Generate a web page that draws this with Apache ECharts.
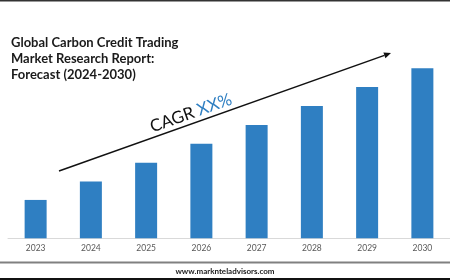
<!DOCTYPE html>
<html>
<head>
<meta charset="utf-8">
<script src="https://cdn.jsdelivr.net/npm/echarts@6/dist/echarts.min.js"></script>
<style>html,body{margin:0;padding:0;background:#fff;}#c{width:450px;height:280px;}</style>
</head>
<body>
<div id="c"></div>
<script>
var years = ['2023','2024','2025','2026','2027','2028','2029','2030'];
var marketSize = [2.03, 3.0, 4.0, 5.0, 6.0, 7.0, 8.0, 9.0];
var titleLines = ['Global Carbon Credit Trading', 'Market Research Report:', 'Forecast (2024-2030)'];
var footerText = 'www.marknteladvisors.com';

var chart = echarts.init(document.getElementById('c'), null, {renderer: 'canvas'});

// arrow geometry (decoration)
var x0 = 59, y0 = 171, x1 = 391, y1 = 53;
var dx = x1 - x0, dy = y1 - y0, L = Math.sqrt(dx*dx + dy*dy);
var ux = dx / L, uy = dy / L, px = -uy, py = ux;
var hl = 7, hw = 3;
var bx = x1 - ux*hl, by = y1 - uy*hl;
var ang = Math.atan2(-dy, dx);

chart.setOption({
  animation: false,
  title: {
    text: titleLines.join('\n'),
    left: 6, top: 30,
    textStyle: {fontFamily: 'Lato', fontWeight: 'bold', fontSize: 13, lineHeight: 16, color: '#1a1a1a'}
  },
  grid: {left: 8, width: 444.5, top: 49.3, bottom: 41.7, containLabel: false},
  xAxis: {
    type: 'category', data: years,
    axisLine: {lineStyle: {color: '#d9d9d9', width: 1}},
    axisTick: {show: false},
    axisLabel: {color: '#595959', fontSize: 8.5, fontFamily: 'Lato', margin: 5}
  },
  yAxis: {type: 'value', min: 0, max: 10, show: false, splitLine: {show: false}},
  series: [{
    type: 'bar', data: marketSize, barWidth: 22,
    itemStyle: {color: '#2f7fc2'}
  }],
  graphic: [
    {type: 'rect', shape: {x: 0, y: 0, width: 450, height: 1.5}, style: {fill: '#333'}},
    {type: 'rect', shape: {x: 0, y: 261.5, width: 450, height: 2}, style: {fill: '#808080'}},
    {type: 'rect', shape: {x: 0, y: 278, width: 450, height: 2}, style: {fill: '#111'}},
    {type: 'text', x: 225, y: 271, style: {text: footerText, align: 'center', verticalAlign: 'middle', fontFamily: 'Lato', fontWeight: 'bold', fontSize: 8, fill: '#222'}},
    {type: 'line', shape: {x1: x0, y1: y0, x2: bx, y2: by}, style: {stroke: '#111', lineWidth: 1.5}},
    {type: 'polygon', shape: {points: [[x1, y1], [bx + px*hw, by + py*hw], [bx - px*hw, by - py*hw]]}, style: {fill: '#111'}},
    {type: 'text', x: 191, y: 113, rotation: ang,
      style: {text: '{a|CAGR }{b|XX%}', align: 'center', verticalAlign: 'middle',
        rich: {
          a: {fontFamily: 'Lato', fontSize: 17, fill: '#111', color: '#111'},
          b: {fontFamily: 'Lato', fontSize: 17, fill: '#2f7fc2', color: '#2f7fc2'}
        }}}
  ]
});
</script>
</body>
</html>
